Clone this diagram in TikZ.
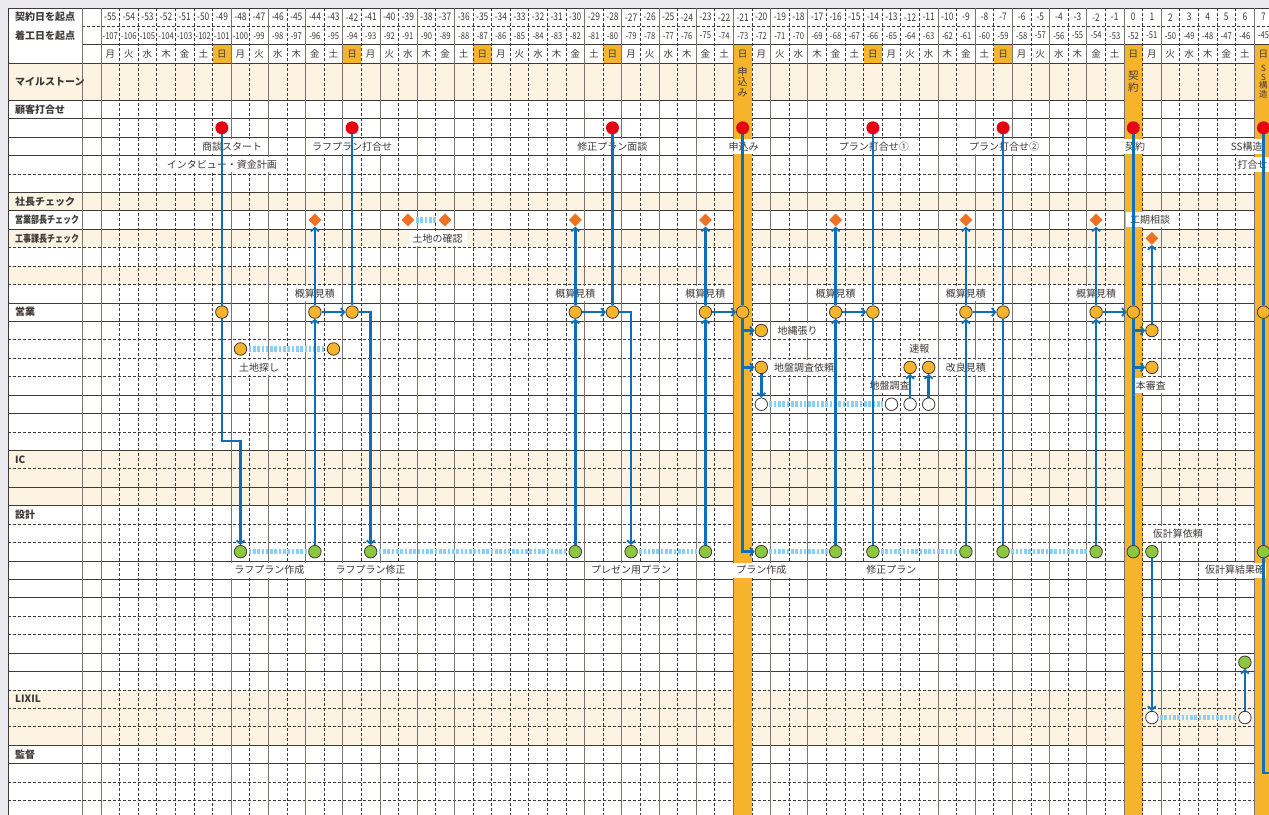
\documentclass[tikz,border=0pt]{standalone}
\usepackage{fontspec}
\setmainfont{Noto Sans CJK JP}
\newfontfamily\numfont{Noto Sans CJK JP}[FakeStretch=0.8]
\newfontfamily\narrowjp{Noto Sans CJK JP}[FakeStretch=0.8]
\usetikzlibrary{arrows.meta, shapes.geometric}

\definecolor{ink}{HTML}{3E3A39}
\definecolor{rulegray}{HTML}{7A7471}
\definecolor{pagegray}{HTML}{E9E9EE}
\definecolor{peach}{HTML}{FDF3E2}
\definecolor{sunday}{HTML}{F6B42C}
\definecolor{flowblue}{HTML}{0E6EB8}
\definecolor{barblue}{HTML}{8AD0F2}
\definecolor{pinred}{HTML}{E60012}
\definecolor{checkorange}{HTML}{EE7124}
\definecolor{saleorange}{HTML}{F6B42C}
\definecolor{designgreen}{HTML}{8DC63F}

\pgfdeclarelayer{grid}
\pgfdeclarelayer{wires}
\pgfsetlayers{grid,wires,main}

\begin{document}
\begin{tikzpicture}[
    x=18.6pt, y=-18.43pt,
    font=\fontsize{10}{12}\selectfont, text=ink,
    solidrule/.style={draw=ink, line width=0.75pt},
    dashrule/.style={draw=ink, line width=0.65pt, dash pattern=on 3pt off 2pt},
    vsolid/.style={draw=rulegray, line width=0.9pt},
    sidelabel/.style={anchor=west, font=\bfseries\fontsize{10}{12}\selectfont},
    headnum/.style={font=\numfont\fontsize{10.5}{11}\selectfont, inner sep=0pt},
    subnum/.style={font=\numfont\fontsize{9.5}{10}\selectfont, inner sep=0pt},
    wday/.style={font=\fontsize{9.5}{10}\selectfont, inner sep=0pt},
    milestone/.style={align=center, inner sep=0pt},
    tag/.style={fill=white, inner xsep=4pt, inner ysep=0pt, minimum height=15pt},
    reddot/.style={circle, fill=pinred, minimum size=13pt, inner sep=0pt},
    saledot/.style={circle, draw=ink, line width=0.8pt, fill=saleorange, minimum size=12.5pt, inner sep=0pt},
    designdot/.style={saledot, fill=designgreen},
    opendot/.style={saledot, fill=white},
    checkmark/.style={diamond, fill=checkorange, minimum size=13pt, inner sep=0pt},
    flow/.style={draw=flowblue, line width=2.6pt},
    arrow/.style={flow, -{Straight Barb[length=3.5pt, width=8pt, line width=1.8pt]}},
    waitbar/.style={draw=barblue, line width=5.5pt, dash pattern=on 2.6pt off 1.7pt, shorten <=1.5pt, shorten >=1.5pt},
  ]
  \useasboundingbox (-60.93,-0.934) rectangle (7.296,43.287);

  \begin{pgfonlayer}{grid}
    \fill[pagegray] (-60.93,-0.934) rectangle (7.296,43.287);
    \fill[white] (-60.5,-0.5) rectangle (7.5,43.5);
    % shaded bands
    \fill[peach] (-60.5,2.5) rectangle (7.5,4.5);
    \foreach \k in {10,12,14,24,25,26,37,38,39}
      \fill[peach] (-60.5,\k-0.5) rectangle (7.5,\k+0.5);
    % row rules
    \draw[dashrule] (-56.5,0.5) -- (7.5,0.5);
    \draw[solidrule] (-56.5,1.5) -- (7.5,1.5);
    \foreach \y in {-0.5,2.5,4.5,5.5,6.5,7.5,9.5,10.5,11.5,15.5,16.5,20.5,21.5,23.5,25.5,26.5,29.5,30.5,31.5,34.5,35.5,39.5,40.5}
      \draw[solidrule] (-60.5,\y) -- (7.5,\y);
    \foreach \y in {8.5,12.5,13.5,14.5,17.5,18.5,19.5,22.5,24.5,27.5,28.5,32.5,33.5,36.5,37.5,38.5,41.5,42.5}
      \draw[dashrule] (-60.5,\y) -- (7.5,\y);
    % sundays
    \foreach \d in {-49,-42,-35,-28,-14,-7}
      \fill[sunday] (\d-0.5,1.5) rectangle (\d+0.5,2.5);
    \foreach \d in {-21,0,7}
      \fill[sunday] (\d-0.5,1.5) rectangle (\d+0.5,43.5);
    % column rules
    \foreach \x in {-54.5,-53.5,...,5.5}
      \draw[dashrule] (\x,-0.5) -- (\x,43.5);
    \foreach \x in {-55.5,-48.5,-46.5,-44.5,-42.5,-40.5,-38.5,-36.5,-29.5,-27.5,-25.5,-23.5,-21.5,-19.5,-17.5,-10.5,-8.5,-6.5,-4.5,-2.5,-0.5,1.5,6.5}
      \draw[vsolid] (\x,-0.5) -- (\x,43.5);
    \draw[vsolid] (-56.5,-0.5) -- (-56.5,43.5);
    \draw[solidrule] (-60.5,-0.5) -- (-60.5,43.5);

    % header
    \foreach \d in {-55,...,7}{
      \pgfmathtruncatemacro\s{\d-52}
      \node[headnum] (top\d) at (\d,0) {\d};
      \node[subnum] (sub\d) at (\d,1) {\s};
    }
    \foreach \wk in {0,...,8}
      \foreach \w [count=\j from 0] in {月,火,水,木,金,土,日}{
        \pgfmathtruncatemacro\dd{-55+7*\wk+\j}
        \node[wday] (wd\dd) at (\dd,2) {\w};
      }

    % row titles
    \node[sidelabel] (hContract) at (-60.3,0) {契約日を起点};
    \node[sidelabel] (hStart) at (-60.3,1) {着工日を起点};
    \node[sidelabel] (lMilestone) at (-60.3,3.5) {マイルストーン};
    \node[sidelabel] (lClient) at (-60.3,5) {顧客打合せ};
    \node[sidelabel] (lPresident) at (-60.3,10) {社長チェック};
    \node[sidelabel, font=\narrowjp\bfseries\fontsize{10}{12}\selectfont] (lSalesMgr) at (-60.3,11) {営業部長チェック};
    \node[sidelabel, font=\narrowjp\bfseries\fontsize{10}{12}\selectfont] (lWorksMgr) at (-60.3,12) {工事課長チェック};
    \node[sidelabel] (lSales) at (-60.3,16) {営業};
    \node[sidelabel] (lIC) at (-60.3,24) {IC};
    \node[sidelabel] (lDesign) at (-60.3,27) {設計};
    \node[sidelabel] (lLixil) at (-60.3,37) {LIXIL};
    \node[sidelabel] (lSuper) at (-60.3,40) {監督};

    % milestones
    \node[milestone, font=\fontsize{10}{10.5}\selectfont] (msApply) at (-21,3.5) {申\\込\\み};
    \node[milestone, font=\fontsize{10.5}{11.5}\selectfont] (msContract) at (0,3.5) {契\\約};
    \node[milestone, font=\fontsize{8.5}{8.6}\selectfont] (msSS) at (7,3.5) {S\\S\\構\\造};

    % labels
    \node[tag] (tShodan) at (-48.45,7) {商談スタート};
    \node[tag] (tRough) at (-42,7) {ラフプラン打合せ};
    \node[tag] (tRevise) at (-28,7) {修正プラン面談};
    \node[tag] (tApply) at (-20.95,7) {申込み};
    \node[tag] (tPlan1) at (-13.95,7) {プラン打合せ①};
    \node[tag] (tPlan2) at (-6.95,7) {プラン打合せ②};
    \node[tag] (tContract) at (0.1,7) {契約};
    \node[tag, anchor=west, inner xsep=1.5pt] (tSS) at (5.15,7) {SS構造};
    \node[tag] (tInterview) at (-49,8) {インタビュー・資金計画};
    \node[tag, anchor=west, inner xsep=1pt] (tSSmeet) at (5.55,8) {打合せ};
    \node[tag] (tTerm) at (0.9,11) {工期相談};
    \node[tag] (tLandCheck) at (-37.4,12) {土地の確認};
    \foreach \d in {-44,-30,-23,-16,-9,-2}
      \node[tag] (est\d) at (\d,15) {概算見積};
    \node[tag] (tJinawa) at (-18.05,17) {地縄張り};
    \node[tag] (tFlash) at (-11.5,18) {速報};
    \node[tag] (tLandSearch) at (-47,19) {土地探し};
    \node[tag] (tSurveyReq) at (-17.7,19) {地盤調査依頼};
    \node[tag] (tImprove) at (-9,19) {改良見積};
    \node[tag] (tSurvey) at (-13.1,20) {地盤調査};
    \node[tag] (tMain) at (0.95,20) {本審査};
    \node[tag] (tCalcReq) at (2.4,28) {仮計算依頼};
    \node[tag] (tRoughMake) at (-46.45,30) {ラフプラン作成};
    \node[tag] (tRoughFix) at (-41,30) {ラフプラン修正};
    \node[tag] (tPresent) at (-27,30) {プレゼン用プラン};
    \node[tag] (tPlanMake) at (-20,30) {プラン作成};
    \node[tag] (tPlanFix) at (-13,30) {修正プラン};
    \node[tag, anchor=west, inner xsep=1pt] (tCalcRes) at (3.8,30) {仮計算結果確};
  \end{pgfonlayer}

  % markers
  \foreach \d in {-49,-42,-28,-21,-14,-7,0,7}
    \node[reddot] (red\d) at (\d,6) {};
  \foreach \d in {-44,-39,-37,-30,-23,-16,-9,-2}
    \node[checkmark] (chk\d) at (\d,11) {};
  \node[checkmark] (chk1) at (1,12) {};
  \foreach \d in {-49,-44,-42,-30,-28,-23,-21,-16,-14,-9,-7,-2,0,7}
    \node[saledot] (sal\d) at (\d,16) {};
  \foreach \d in {-48,-44,-41,-30,-27,-23,-20,-16,-14,-9,-7,-2,0,1,7}
    \node[designdot] (des\d) at (\d,29) {};
  \node[saledot] (land-48) at (-48,18) {};
  \node[saledot] (land-43) at (-43,18) {};
  \node[saledot] (jinawa) at (-20,17) {};
  \node[saledot] (jiban) at (-20,19) {};
  \node[saledot] (flash) at (-12,19) {};
  \node[saledot] (improve) at (-11,19) {};
  \foreach \d in {-20,-13,-12,-11}
    \node[opendot] (svy\d) at (\d,21) {};
  \node[saledot] (hon17) at (1,17) {};
  \node[saledot] (hon19) at (1,19) {};
  \node[designdot] (lixg6) at (6,35) {};
  \node[opendot] (lix1) at (1,38) {};
  \node[opendot] (lix6) at (6,38) {};
  \coordinate (handover) at (7.6,41);

  \begin{pgfonlayer}{wires}
    % waiting spans
    \draw[waitbar] (land-48) -- (land-43);
    \foreach \a/\b in {-48/-44,-41/-30,-27/-23,-20/-16,-14/-9,-7/-2}
      \draw[waitbar] (des\a) -- (des\b);
    \draw[waitbar] (chk-39) -- (chk-37);
    \draw[waitbar] (svy-20) -- (svy-13);
    \draw[waitbar] (lix1) -- (lix6);
    % flow
    \foreach \d in {-42,-28,-21,-14,-7,0,7}
      \draw[flow] (red\d) -- (sal\d);
    \draw[arrow] (red-49) -- ++(0,17) -| (des-48);
    \foreach \d in {-44,-30,-23,-16,-9,-2}{
      \draw[arrow] (des\d) -- (sal\d);
      \draw[arrow] (sal\d) -- (chk\d);
    }
    \foreach \a/\b in {-44/-42,-30/-28,-23/-21,-16/-14,-9/-7,-2/0}
      \draw[arrow] (sal\a) -- (sal\b);
    \draw[arrow] (sal-42) -| (des-41);
    \draw[arrow] (sal-28) -| (des-27);
    \draw[arrow] (sal-21) |- (des-20);
    \draw[arrow] (sal-21 |- jinawa) -- (jinawa);
    \draw[arrow] (sal-21 |- jiban) -- (jiban);
    \draw[arrow] (jiban) -- (svy-20);
    \draw[arrow] (svy-12) -- (flash);
    \draw[arrow] (svy-11) -- (improve);
    \draw[flow] (sal-14) -- (des-14);
    \draw[flow] (sal-7) -- (des-7);
    \draw[flow] (sal0) -- (des0);
    \draw[arrow] (sal0 |- hon17) -- (hon17);
    \draw[arrow] (sal0 |- hon19) -- (hon19);
    \draw[arrow] (hon17) -- (chk1);
    \draw[arrow] (des1) -- (lix1);
    \draw[arrow] (lix6) -- (lixg6);
    \draw[flow] (sal7) -- (des7);
    \draw[arrow] (des7) |- (handover);
  \end{pgfonlayer}
\end{tikzpicture}
\end{document}
